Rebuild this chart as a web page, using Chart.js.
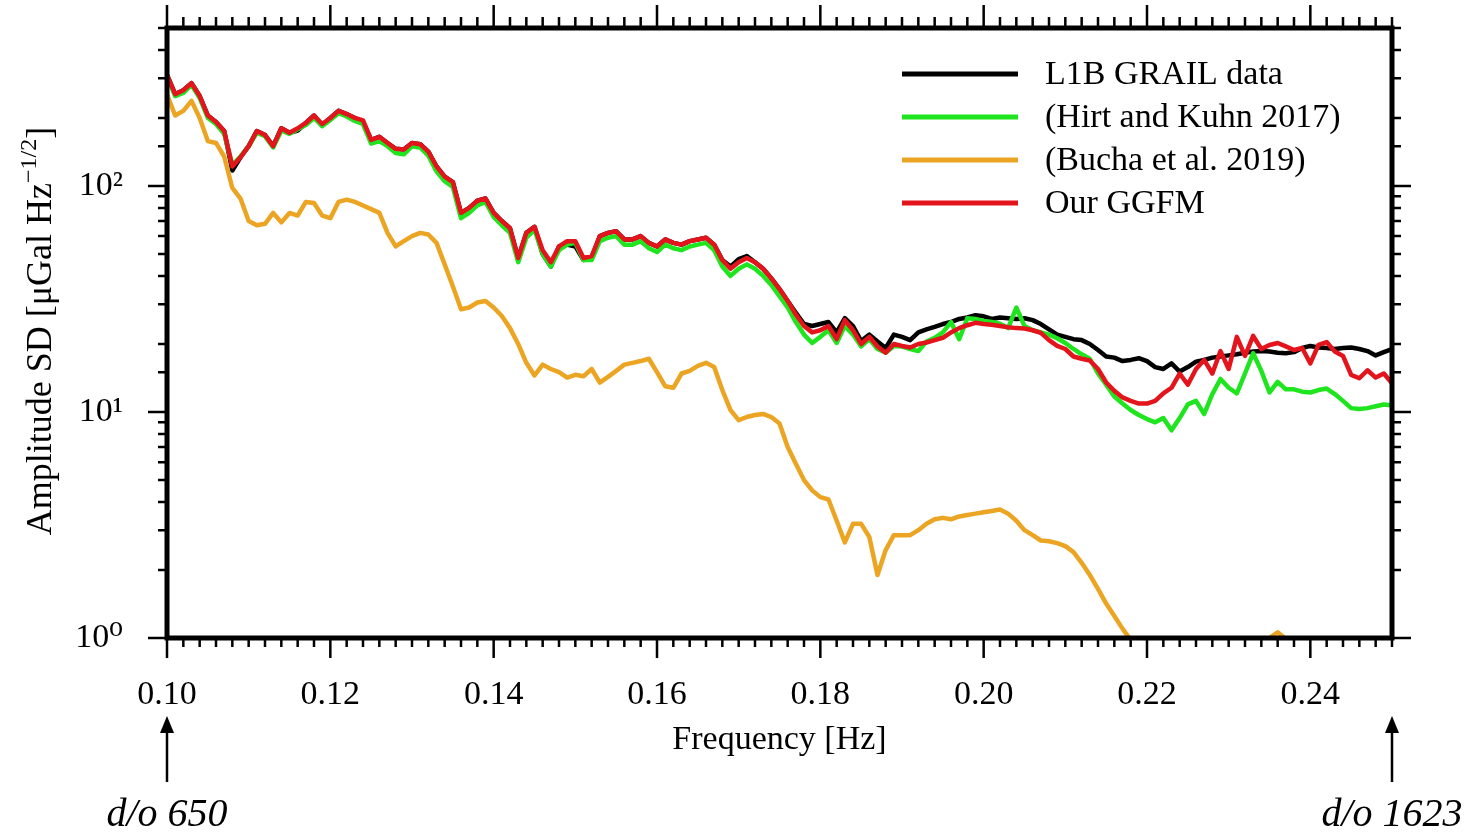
<!DOCTYPE html>
<html>
<head>
<meta charset="utf-8">
<script src="https://cdn.jsdelivr.net/npm/chart.js@4.4.0/dist/chart.umd.min.js"></script>
<style>
  html, body { margin: 0; padding: 0; background: #fff; }
  #wrap { width: 1474px; height: 832px; }
</style>
</head>
<body>
<div id="wrap"><canvas id="psdChart" width="1474" height="832"></canvas></div>
<script>
// frequency grid [Hz]
const freqs = [
  0.100, 0.101, 0.102, 0.103, 0.104, 0.105, 0.106, 0.107, 0.108, 0.109,
  0.110, 0.111, 0.112, 0.113, 0.114, 0.115, 0.116, 0.117, 0.118, 0.119,
  0.120, 0.121, 0.122, 0.123, 0.124, 0.125, 0.126, 0.127, 0.128, 0.129,
  0.130, 0.131, 0.132, 0.133, 0.134, 0.135, 0.136, 0.137, 0.138, 0.139,
  0.140, 0.141, 0.142, 0.143, 0.144, 0.145, 0.146, 0.147, 0.148, 0.149,
  0.150, 0.151, 0.152, 0.153, 0.154, 0.155, 0.156, 0.157, 0.158, 0.159,
  0.160, 0.161, 0.162, 0.163, 0.164, 0.165, 0.166, 0.167, 0.168, 0.169,
  0.170, 0.171, 0.172, 0.173, 0.174, 0.175, 0.176, 0.177, 0.178, 0.179,
  0.180, 0.181, 0.182, 0.183, 0.184, 0.185, 0.186, 0.187, 0.188, 0.189,
  0.190, 0.191, 0.192, 0.193, 0.194, 0.195, 0.196, 0.197, 0.198, 0.199,
  0.200, 0.201, 0.202, 0.203, 0.204, 0.205, 0.206, 0.207, 0.208, 0.209,
  0.210, 0.211, 0.212, 0.213, 0.214, 0.215, 0.216, 0.217, 0.218, 0.219,
  0.220, 0.221, 0.222, 0.223, 0.224, 0.225, 0.226, 0.227, 0.228, 0.229,
  0.230, 0.231, 0.232, 0.233, 0.234, 0.235, 0.236, 0.237, 0.238, 0.239,
  0.240, 0.241, 0.242, 0.243, 0.244, 0.245, 0.246, 0.247, 0.248, 0.249,
  0.250
];

// amplitude SD [uGal Hz^-1/2]
const l1bGrail = [
  310, 255, 265, 285, 250, 205, 192, 175, 117, 134,
  150, 175, 168, 150, 180, 172, 176, 190, 205, 185,
  200, 215, 208, 200, 192, 160, 165, 155, 146, 145,
  155, 153, 142, 122, 110, 104, 76, 80, 86, 88,
  76, 70, 65, 48, 62, 66, 50, 44, 54, 55,
  54, 47, 48, 60, 62, 63, 58, 58, 60, 56,
  54, 58, 56, 55, 57, 58, 59, 55, 47, 44,
  47.5, 49, 46, 43, 39, 35, 31, 27.5, 24.5, 24,
  24.5, 25, 22.5, 26, 24, 20.6, 22, 20.5, 19.2, 22,
  21.5, 20.8, 22.5, 23.2, 23.8, 24.5, 25, 25.8, 26.2, 26.8,
  26.5, 25.8, 26.2, 26, 25.8, 26, 25.5, 24.5, 23.2, 22,
  21.5, 21, 20.8, 20, 18.8, 17.6, 17.4, 16.8, 17, 17.3,
  16.8, 15.8, 15.5, 16.4, 15.1, 15.8, 16.7, 17, 17.4, 17.6,
  17.8, 18, 18.3, 18.5, 18.6, 18.5, 18.3, 18.2, 18.4, 19.2,
  19.6, 19.3, 19.2, 19, 19.2, 19.3, 19, 18.6, 17.8, 18.4,
  19
];

const hirtKuhn = [
  305, 250, 258, 280, 245, 200, 188, 170, 124, 135,
  150, 172, 166, 148, 176, 170, 178, 186, 200, 184,
  196, 210, 203, 194, 188, 154, 158, 150, 140, 138,
  150, 148, 136, 116, 105, 99, 72, 76, 82, 85,
  73, 67, 62, 46, 59, 64, 50, 44, 52, 55,
  56, 47, 47, 57, 59, 60, 55, 55, 57, 53,
  51, 55, 53, 52, 54, 55, 56, 52, 44, 40,
  43, 45, 43, 40, 36.5, 32.5, 29, 25, 22, 20.2,
  21.5, 23, 20.2, 24, 22, 19.5, 21, 19, 18.3, 19.6,
  19.5, 19, 18.6, 20.5, 21.3, 22.5, 25, 21, 26, 25.8,
  25.3, 25, 24.6, 23.5, 29, 24, 23, 22.5, 22, 21.2,
  20.2, 19, 18, 17.2, 14.8, 13.2, 11.7, 10.9, 10.2, 9.7,
  9.3, 9.0, 9.4, 8.3, 9.4, 10.8, 11.2, 9.8, 12, 14,
  12.8, 12.1, 14.8, 18.2, 15.2, 12.2, 13.6, 12.6, 12.6, 12.3,
  12.2, 12.5, 12.7, 12, 11.2, 10.4, 10.3, 10.4, 10.6, 10.8,
  10.7
];

const buchaEtAl = [
  254, 205, 215, 238, 200, 158, 155, 135, 98, 88,
  70, 67, 68, 76, 69, 76, 74, 85, 84, 74,
  72, 85, 87, 85, 82, 79, 76, 62, 54, 57,
  60, 62, 61, 56, 45, 36, 28.5, 29, 30.5, 31,
  29, 26.6, 23.5, 20, 16.5, 14.5, 16.2, 15.5, 15, 14.2,
  14.6, 14.4, 15.5, 13.5, 14.3, 15.2, 16.2, 16.5, 16.8, 17.2,
  15, 13, 12.8, 14.8, 15.2, 16, 16.5, 15.8, 12.5, 10.2,
  9.2, 9.5, 9.7, 9.8, 9.5, 8.9, 7, 5.9, 5.0, 4.5,
  4.2, 4.1, 3.3, 2.65, 3.2, 3.2, 2.8, 1.9, 2.45, 2.85,
  2.85, 2.85, 3.0, 3.2, 3.35, 3.4, 3.35, 3.45, 3.5, 3.55,
  3.6, 3.65, 3.7, 3.55, 3.3, 3.0, 2.85, 2.7, 2.68, 2.63,
  2.55, 2.4, 2.15, 1.9, 1.65, 1.42, 1.25, 1.1, 0.98, 0.88,
  0.82, 0.78, 0.8, 0.83, 0.8, 0.78, 0.82, 0.85, 0.84, 0.86,
  0.88, 0.9, 0.92, 0.94, 0.97, 1.0, 1.06, 0.99, 0.93, 0.9,
  0.88, 0.87, 0.86, 0.85, 0.86, 0.84, 0.83, 0.84, 0.82, 0.81,
  0.8
];

const ourGgfm = [
  310, 255, 265, 285, 250, 205, 192, 175, 122, 134,
  150, 175, 168, 150, 180, 172, 180, 190, 205, 188,
  200, 215, 208, 200, 195, 160, 165, 155, 146, 145,
  155, 153, 142, 122, 110, 104, 76, 80, 86, 88,
  76, 70, 65, 48, 62, 66, 52, 46, 54, 57,
  57, 48, 49, 60, 62, 63, 58, 58, 60, 56,
  54, 58, 56, 55, 57, 58, 59, 55, 47, 43,
  46, 48, 46, 43, 39, 35, 31, 27, 24, 22.5,
  23, 24, 21, 25.5, 23, 20, 21.5, 19.5, 18.3, 20,
  19.6, 19.3, 20, 20.3, 20.8, 21.3, 22.5, 23.5, 24.2, 24.8,
  24.5, 24.3, 24, 23.7, 23.5, 23.4, 23, 22.4, 20.8, 19.6,
  19, 17.6, 17.2, 16.9, 15.5, 13.5, 12.4, 11.6, 11.2, 10.9,
  10.9, 11.2, 12.1, 12.8, 14.8, 13.2, 15.5, 17, 14.8, 18.6,
  15.5, 21.5, 17.7, 21.7, 19, 19.8, 20.2, 19.5, 18.8, 19.2,
  16.4, 19.8, 20.4, 18.5, 17.7, 14.6, 14.1, 15.3, 14.2, 14.8,
  13.4
];

const seriesNames = ["L1B GRAIL data", "(Hirt and Kuhn 2017)", "(Bucha et al. 2019)", "Our GGFM"];
const seriesColors = ["#000000", "#1fe51f", "#eca522", "#e3141b"];

// axis ticks
const xTickValues = [0.10, 0.12, 0.14, 0.16, 0.18, 0.20, 0.22, 0.24];
const xTickLabels = ["0.10", "0.12", "0.14", "0.16", "0.18", "0.20", "0.22", "0.24"];
const yTickValues = [1, 10, 100];
const yTickLabels = ["10\u2070", "10\u00b9", "10\u00b2"];

// degree/order markers under the x axis
const markerFreqs = [0.10, 0.25];
const markerLabels = ["d/o 650", "d/o 1623"];

const serif = "'Liberation Serif', 'DejaVu Serif', serif";

const toPoints = (vals) => vals.map((v, i) => ({ x: freqs[i], y: v }));
const isDecade = (v) => Math.abs(Math.log10(v) - Math.round(Math.log10(v))) < 1e-9;

// box frame with ticks on all four sides
const frameTicks = {
  id: "frameTicks",
  afterDraw(chart) {
    const { ctx, chartArea: a, scales } = chart;
    const x = scales.x, y = scales.y;
    ctx.save();
    ctx.strokeStyle = "#000";
    ctx.lineWidth = 2.5;
    ctx.beginPath();
    x.ticks.forEach((t) => {
      const px = x.getPixelForValue(t.value);
      const major = Math.round(t.value * 1000) % 20 === 0;
      ctx.moveTo(px, a.bottom);
      ctx.lineTo(px, a.bottom + (major ? 20 : 9));
      ctx.moveTo(px, a.top);
      ctx.lineTo(px, a.top - (major ? 23 : 11));
    });
    y.ticks.forEach((t) => {
      const py = y.getPixelForValue(t.value);
      const major = isDecade(t.value);
      ctx.moveTo(a.left, py);
      ctx.lineTo(a.left - (major ? 19 : 9), py);
      ctx.moveTo(a.right, py);
      ctx.lineTo(a.right + (major ? 19 : 9), py);
    });
    ctx.stroke();
    ctx.lineWidth = 5;
    ctx.strokeRect(a.left, a.top, a.right - a.left, a.bottom - a.top);
    ctx.restore();
  },
};

// legend inside the plot, y title with superscript, d/o arrows
const extras = {
  id: "extras",
  afterDraw(chart) {
    const { ctx, chartArea: a, scales } = chart;
    ctx.save();

    // legend
    ctx.font = "34px " + serif;
    ctx.textBaseline = "middle";
    ctx.textAlign = "left";
    chart.data.datasets.forEach((ds, i) => {
      const ly = a.top + 46 + i * 43;
      ctx.strokeStyle = ds.borderColor;
      ctx.lineWidth = 5;
      ctx.beginPath();
      ctx.moveTo(a.right - 490, ly);
      ctx.lineTo(a.right - 374, ly);
      ctx.stroke();
      ctx.fillStyle = "#000";
      ctx.fillText(ds.label, a.right - 347, ly + 1);
    });

    // y axis title
    const main = "Amplitude SD [\u03bcGal Hz";
    const sup = "\u22121/2";
    const tail = "]";
    ctx.translate(51, (a.top + a.bottom) / 2 - 2);
    ctx.rotate(-Math.PI / 2);
    ctx.textBaseline = "alphabetic";
    ctx.font = "36px " + serif;
    const w1 = ctx.measureText(main).width;
    const w3 = ctx.measureText(tail).width;
    ctx.font = "24px " + serif;
    const w2 = ctx.measureText(sup).width;
    let cx = -(w1 + w2 + w3) / 2;
    ctx.font = "36px " + serif;
    ctx.fillText(main, cx, 0);
    cx += w1;
    ctx.font = "24px " + serif;
    ctx.fillText(sup, cx, -15);
    cx += w2;
    ctx.font = "36px " + serif;
    ctx.fillText(tail, cx, 0);
    ctx.setTransform(1, 0, 0, 1, 0, 0);

    // d/o markers
    ctx.fillStyle = "#000";
    ctx.strokeStyle = "#000";
    ctx.lineWidth = 2.5;
    ctx.textAlign = "center";
    ctx.font = "italic 40px " + serif;
    markerFreqs.forEach((f, i) => {
      const px = scales.x.getPixelForValue(f);
      ctx.beginPath();
      ctx.moveTo(px, a.bottom + 144);
      ctx.lineTo(px, a.bottom + 92);
      ctx.stroke();
      ctx.beginPath();
      ctx.moveTo(px, a.bottom + 78);
      ctx.lineTo(px - 7, a.bottom + 95);
      ctx.lineTo(px + 7, a.bottom + 95);
      ctx.closePath();
      ctx.fill();
      ctx.fillText(markerLabels[i], px, a.bottom + 188);
    });
    ctx.restore();
  },
};

const lineStyle = { borderWidth: 4.5, pointRadius: 0, tension: 0, borderJoinStyle: "round", borderCapStyle: "round" };

const ctx = document.getElementById("psdChart").getContext("2d");
const psdChart = new Chart(ctx, {
  type: "line",
  data: {
    datasets: [
      { label: seriesNames[0], data: toPoints(l1bGrail), borderColor: seriesColors[0], order: 3, ...lineStyle },
      { label: seriesNames[1], data: toPoints(hirtKuhn), borderColor: seriesColors[1], order: 2, ...lineStyle },
      { label: seriesNames[2], data: toPoints(buchaEtAl), borderColor: seriesColors[2], order: 1, ...lineStyle },
      { label: seriesNames[3], data: toPoints(ourGgfm), borderColor: seriesColors[3], order: 0, ...lineStyle },
    ],
  },
  options: {
    responsive: false,
    animation: false,
    devicePixelRatio: 1,
    layout: { padding: { top: 28, right: 82, left: 0, bottom: 0 } },
    plugins: {
      legend: { display: false },
      tooltip: { enabled: false },
    },
    scales: {
      x: {
        type: "linear",
        min: 0.1,
        max: 0.25,
        grid: { display: false },
        border: { display: false },
        ticks: {
          stepSize: 0.002,
          autoSkip: false,
          maxRotation: 0,
          minRotation: 0,
          padding: 29,
          color: "#000",
          font: { family: serif, size: 34 },
          callback: (v) => {
            const k = xTickValues.findIndex((t) => Math.abs(t - v) < 1e-6);
            return k >= 0 ? xTickLabels[k] : "";
          },
        },
        title: {
          display: true,
          text: "Frequency [Hz]",
          color: "#000",
          font: { family: serif, size: 34 },
          padding: { top: 0, bottom: 72 },
        },
        afterFit: (scale) => {
          scale.height = 194;
          scale.paddingLeft = 0;
          scale.paddingRight = 0;
        },
      },
      y: {
        type: "logarithmic",
        min: 1,
        max: 500,
        grid: { display: false },
        border: { display: false },
        ticks: {
          autoSkip: false,
          padding: 36,
          color: "#000",
          font: { family: serif, size: 34 },
          callback: (v) => {
            const k = yTickValues.findIndex((t) => Math.abs(t - v) < 1e-9);
            return k >= 0 ? yTickLabels[k] : "";
          },
        },
        afterFit: (scale) => {
          scale.width = 167;
          scale.paddingTop = 0;
          scale.paddingBottom = 0;
        },
      },
    },
  },
  plugins: [frameTicks, extras],
});
</script>
</body>
</html>
